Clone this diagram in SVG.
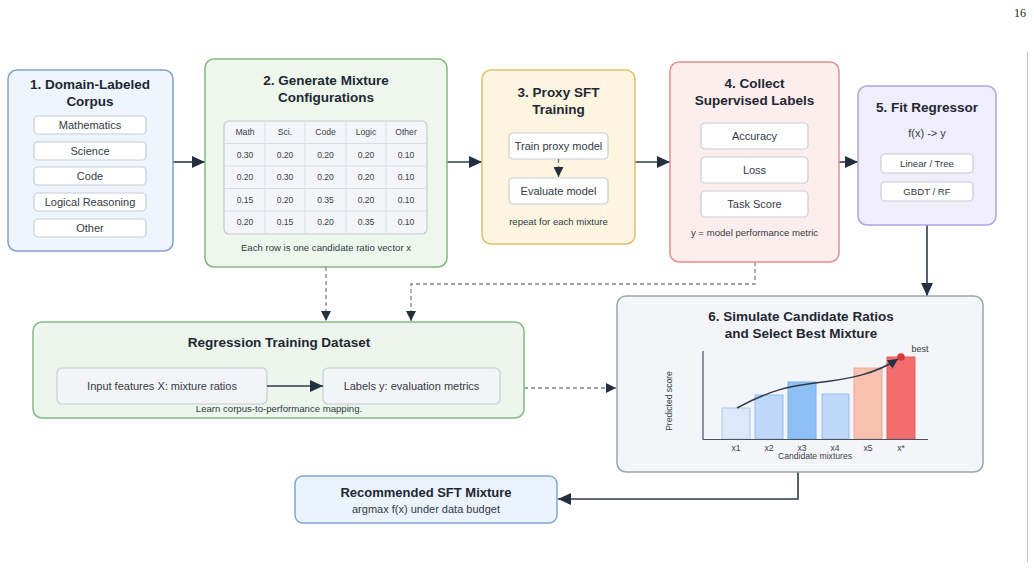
<svg xmlns="http://www.w3.org/2000/svg" width="1034" height="582" viewBox="0 0 1034 582">
<defs>
<style>
text{font-family:"Liberation Sans",Arial,sans-serif;text-anchor:middle;fill:#2b3340}
.t{font-weight:bold;font-size:13.5px;fill:#1f2733}
.i{font-size:11px;fill:#333a45}
.s{font-size:9.6px;fill:#333a45}
.tb{font-size:8.6px;fill:#3a414c}
.ax{font-size:8.6px;fill:#3a414c}
.box{fill:#ffffff;stroke:#c6cbd3;stroke-width:1.2}
.gbox{fill:#f3f4f7;stroke:#c6cbd3;stroke-width:1.2}
.c{fill:none;stroke:#2f3a4a;stroke-width:1.6}
.d{fill:none;stroke:#7d838d;stroke-width:1.3;stroke-dasharray:4 3}
</style>
<marker id="ah" markerUnits="userSpaceOnUse" markerWidth="14" markerHeight="12" refX="13" refY="6" orient="auto">
<path d="M0,0 L13,6 L0,12 Z" fill="#243040"/>
</marker>
<marker id="ahs" markerUnits="userSpaceOnUse" markerWidth="11" markerHeight="10" refX="10" refY="5" orient="auto">
<path d="M0,0 L10,5 L0,10 Z" fill="#243040"/>
</marker>
</defs>
<rect width="1034" height="582" fill="#ffffff"/>
<text x="1020" y="17" style="font-family:'Liberation Serif','Times New Roman',serif;font-size:12px;fill:#222">16</text>
<line x1="1027.5" y1="52" x2="1027.5" y2="562" stroke="#c4c4c4" stroke-width="1"/>

<g id="connectors">
<line class="c" x1="173" y1="162" x2="205" y2="162" marker-end="url(#ah)"/>
<line class="c" x1="447" y1="162" x2="482" y2="162" marker-end="url(#ah)"/>
<line class="c" x1="635" y1="162" x2="670" y2="162" marker-end="url(#ah)"/>
<line class="c" x1="839" y1="162" x2="858" y2="162" marker-end="url(#ah)"/>
<line class="c" x1="927" y1="225" x2="927" y2="296" marker-end="url(#ah)"/>
<path class="d" d="M326,267 L326,321" marker-end="url(#ahs)"/>
<path class="d" d="M755,262 L755,284 L411,284 L411,321" marker-end="url(#ahs)"/>
<path class="d" d="M524,388 L616,388" marker-end="url(#ahs)"/>
<path class="c" d="M798,472 L798,499 L558,499" marker-end="url(#ah)"/>
</g>

<g id="node1">
<rect x="8" y="70" width="165" height="181" rx="9" fill="#eef5fd" stroke="#7fa3cc" stroke-width="1.5"/>
<text class="t" x="90" y="89">1. Domain-Labeled</text>
<text class="t" x="90" y="106">Corpus</text>
<rect class="box" x="34" y="116" width="112" height="18" rx="4"/>
<text class="i" x="90" y="129">Mathematics</text>
<rect class="box" x="34" y="142" width="112" height="18" rx="4"/>
<text class="i" x="90" y="155">Science</text>
<rect class="box" x="34" y="167" width="112" height="18" rx="4"/>
<text class="i" x="90" y="180">Code</text>
<rect class="box" x="34" y="193" width="112" height="18" rx="4"/>
<text class="i" x="90" y="206">Logical Reasoning</text>
<rect class="box" x="34" y="219" width="112" height="18" rx="4"/>
<text class="i" x="90" y="232">Other</text>
</g>

<g id="node2">
<rect x="205" y="59" width="242" height="208" rx="9" fill="#edf7ec" stroke="#82b77f" stroke-width="1.5"/>
<text class="t" x="326" y="85">2. Generate Mixture</text>
<text class="t" x="326" y="102">Configurations</text>
<rect x="224" y="121" width="203" height="113" rx="5" fill="#f4f5f8" stroke="#c3c8d0" stroke-width="1.2"/>
<g stroke="#d9dde3" stroke-width="1">
<line x1="265" y1="121" x2="265" y2="234"/>
<line x1="305" y1="121" x2="305" y2="234"/>
<line x1="346" y1="121" x2="346" y2="234"/>
<line x1="386" y1="121" x2="386" y2="234"/>
<line x1="224" y1="143.5" x2="427" y2="143.5"/>
<line x1="224" y1="166" x2="427" y2="166"/>
<line x1="224" y1="188.5" x2="427" y2="188.5"/>
<line x1="224" y1="211" x2="427" y2="211"/>
</g>
<g class="tb">
<text class="tb" x="245" y="135">Math</text><text class="tb" x="285" y="135">Sci.</text><text class="tb" x="325.5" y="135">Code</text><text class="tb" x="366" y="135">Logic</text><text class="tb" x="406" y="135">Other</text>
<text class="tb" x="245" y="158">0.30</text><text class="tb" x="285" y="158">0.20</text><text class="tb" x="325.5" y="158">0.20</text><text class="tb" x="366" y="158">0.20</text><text class="tb" x="406" y="158">0.10</text>
<text class="tb" x="245" y="180">0.20</text><text class="tb" x="285" y="180">0.30</text><text class="tb" x="325.5" y="180">0.20</text><text class="tb" x="366" y="180">0.20</text><text class="tb" x="406" y="180">0.10</text>
<text class="tb" x="245" y="203">0.15</text><text class="tb" x="285" y="203">0.20</text><text class="tb" x="325.5" y="203">0.35</text><text class="tb" x="366" y="203">0.20</text><text class="tb" x="406" y="203">0.10</text>
<text class="tb" x="245" y="225">0.20</text><text class="tb" x="285" y="225">0.15</text><text class="tb" x="325.5" y="225">0.20</text><text class="tb" x="366" y="225">0.35</text><text class="tb" x="406" y="225">0.10</text>
</g>
<text class="s" x="326" y="251">Each row is one candidate ratio vector x</text>
</g>

<g id="node3">
<rect x="482" y="70" width="153" height="174" rx="9" fill="#fdf5df" stroke="#e2bd6c" stroke-width="1.5"/>
<text class="t" x="558.5" y="97">3. Proxy SFT</text>
<text class="t" x="558.5" y="114">Training</text>
<rect class="box" x="509" y="133" width="99" height="26" rx="4"/>
<text class="i" x="558.5" y="150">Train proxy model</text>
<path class="d" d="M558.5,159 L558.5,177" marker-end="url(#ahs)" style="stroke:#66707c"/>
<rect class="box" x="509" y="178" width="99" height="26" rx="4"/>
<text class="i" x="558.5" y="195">Evaluate model</text>
<text class="s" x="558.5" y="225">repeat for each mixture</text>
</g>

<g id="node4">
<rect x="670" y="62" width="169" height="200" rx="9" fill="#fdeeee" stroke="#e28f8f" stroke-width="1.5"/>
<text class="t" x="754.5" y="88">4. Collect</text>
<text class="t" x="754.5" y="105">Supervised Labels</text>
<rect class="box" x="701" y="123" width="107" height="26" rx="4"/>
<text class="i" x="754.5" y="140">Accuracy</text>
<rect class="box" x="701" y="157" width="107" height="26" rx="4"/>
<text class="i" x="754.5" y="174">Loss</text>
<rect class="box" x="701" y="191" width="107" height="26" rx="4"/>
<text class="i" x="754.5" y="208">Task Score</text>
<text class="s" x="754.5" y="236">y = model performance metric</text>
</g>

<g id="node5">
<rect x="858" y="86" width="138" height="139" rx="9" fill="#f1eefc" stroke="#b2a4de" stroke-width="1.5"/>
<text class="t" x="927" y="112">5. Fit Regressor</text>
<text class="i" x="927" y="137">f(x) -&gt; y</text>
<rect class="box" x="881" y="154" width="92" height="19" rx="4"/>
<text class="s" x="927" y="167">Linear / Tree</text>
<rect class="box" x="881" y="182" width="92" height="19" rx="4"/>
<text class="s" x="927" y="195">GBDT / RF</text>
</g>

<g id="dataset">
<rect x="33" y="322" width="491" height="96" rx="9" fill="#ecf6ec" stroke="#86b886" stroke-width="1.5"/>
<text class="t" x="279" y="347">Regression Training Dataset</text>
<rect class="gbox" x="57" y="368" width="210" height="36" rx="5"/>
<text class="i" x="162" y="390">Input features X: mixture ratios</text>
<rect class="gbox" x="323" y="368" width="177" height="36" rx="5"/>
<text class="i" x="411.5" y="390">Labels y: evaluation metrics</text>
<line class="c" x1="267" y1="386" x2="323" y2="386" marker-end="url(#ah)"/>
<text class="s" x="279" y="412">Learn corpus-to-performance mapping.</text>
</g>

<g id="node6">
<rect x="617" y="296" width="366" height="176" rx="9" fill="#f4f5f8" stroke="#9ea3ad" stroke-width="1.5"/>
<text class="t" x="801" y="321">6. Simulate Candidate Ratios</text>
<text class="t" x="801" y="338">and Select Best Mixture</text>
<rect x="722" y="408" width="28" height="31" fill="#dce9fb" stroke="#a9c9f0" stroke-width="1"/>
<rect x="755" y="395" width="28" height="44" fill="#bdd8f8" stroke="#94bdf0" stroke-width="1"/>
<rect x="788" y="382" width="28" height="57" fill="#8fc0f5" stroke="#79b0ee" stroke-width="1"/>
<rect x="822" y="394" width="27" height="45" fill="#bdd8f8" stroke="#94bdf0" stroke-width="1"/>
<rect x="854" y="368" width="28" height="71" fill="#f8c0af" stroke="#f1a793" stroke-width="1"/>
<rect x="887" y="357" width="28" height="82" fill="#f26e6e" stroke="#e85f5f" stroke-width="1"/>
<line x1="703" y1="351" x2="703" y2="439.5" stroke="#4a525e" stroke-width="1.2"/>
<line x1="703" y1="439.5" x2="928" y2="439.5" stroke="#4a525e" stroke-width="1.2"/>
<path d="M737,408 C770,390 790,386 815,383 C850,379 875,374 898,359" fill="none" stroke="#2f3a4a" stroke-width="1.5" marker-end="url(#ahs)"/>
<circle cx="901" cy="357" r="3.8" fill="#d63a3a"/>
<text x="920" y="352" style="font-size:9px;fill:#333a45">best</text>
<text class="ax" x="736" y="451">x1</text>
<text class="ax" x="769" y="451">x2</text>
<text class="ax" x="802" y="451">x3</text>
<text class="ax" x="835" y="451">x4</text>
<text class="ax" x="868" y="451">x5</text>
<text class="ax" x="901" y="451">x*</text>
<text class="ax" x="815" y="459">Candidate mixtures</text>
<text class="ax" x="0" y="0" transform="translate(672,401) rotate(-90)">Predicted score</text>
</g>

<g id="recommended">
<rect x="295" y="476" width="262" height="47" rx="8" fill="#ebf3fd" stroke="#7fa6d5" stroke-width="1.5"/>
<text class="t" x="426" y="497" style="font-size:13px">Recommended SFT Mixture</text>
<text class="i" x="426" y="513">argmax f(x) under data budget</text>
</g>
</svg>
